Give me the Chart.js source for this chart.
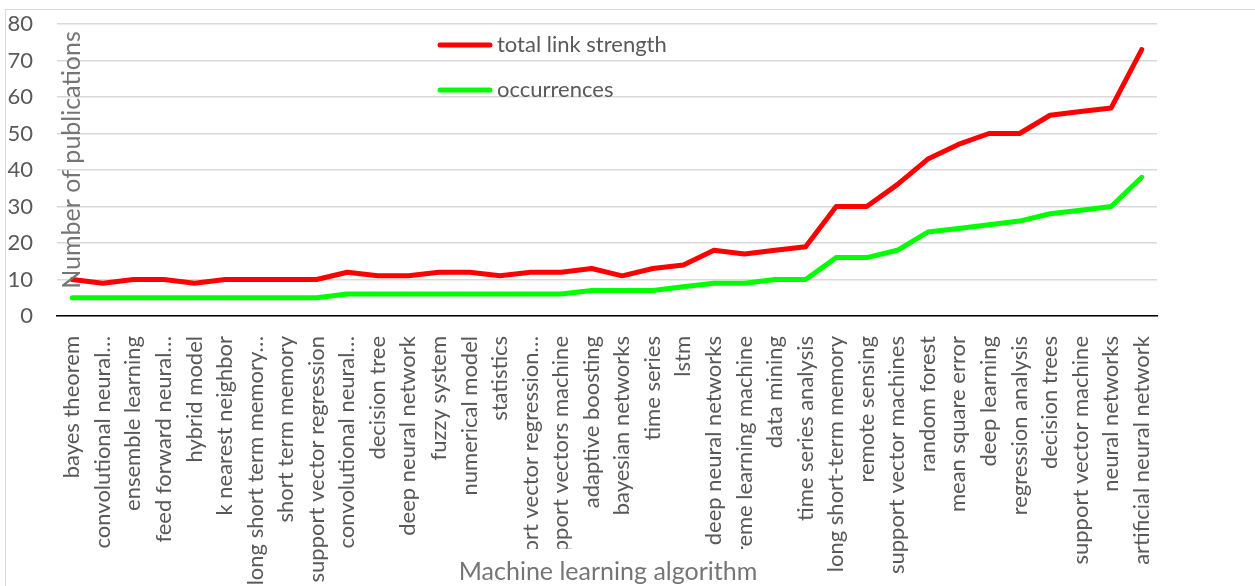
<!DOCTYPE html>
<html>
<head>
<meta charset="utf-8">
<script src="https://cdn.jsdelivr.net/npm/chart.js@4.4.1/dist/chart.umd.min.js"></script>
<style>
  html, body { margin: 0; padding: 0; background: #ffffff; }
  #wrap { position: relative; width: 1255px; height: 586px; overflow: hidden; background: #ffffff; }
  #frame { position: absolute; left: 5px; top: 9px; width: 1400px; height: 700px; border: 1.5px solid #d9d9d9; box-sizing: border-box; }
  canvas { position: absolute; left: 0; top: 0; }
</style>
</head>
<body>
<div id="wrap">
  <div id="frame"></div>
  <canvas id="chart" width="1255" height="586"></canvas>
</div>
<script>
// Machine learning algorithms, ordered by total link strength
const categories = [
  "bayes theorem",
  "convolutional neural…",
  "ensemble learning",
  "feed forward neural…",
  "hybrid model",
  "k nearest neighbor",
  "long short term memory…",
  "short term memory",
  "support vector regression",
  "convolutional neural…",
  "decision tree",
  "deep neural network",
  "fuzzy system",
  "numerical model",
  "statistics",
  "support vector regression…",
  "support vectors machine",
  "adaptive boosting",
  "bayesian networks",
  "time series",
  "lstm",
  "deep neural networks",
  "extreme learning machine",
  "data mining",
  "time series analysis",
  "long short-term memory",
  "remote sensing",
  "support vector machines",
  "random forest",
  "mean square error",
  "deep learning",
  "regression analysis",
  "decision trees",
  "support vector machine",
  "neural networks",
  "artificial neural network"
];

const totalLinkStrength = [
  10, 9, 10, 10, 9, 10, 10, 10, 10, 12,
  11, 11, 12, 12, 11, 12, 12, 13, 11, 13,
  14, 18, 17, 18, 19, 30, 30, 36, 43, 47,
  50, 50, 55, 56, 57, 73
];

const occurrences = [
  5, 5, 5, 5, 5, 5, 5, 5, 5, 6,
  6, 6, 6, 6, 6, 6, 6, 7, 7, 7,
  8, 9, 9, 10, 10, 16, 16, 18, 23, 24,
  25, 26, 28, 29, 30, 38
];

const yTicks = [0, 10, 20, 30, 40, 50, 60, 70, 80];
const seriesNames = ["total link strength", "occurrences"];
const seriesColors = ["#ff0000", "#00ff00"];
const xTitle = "Machine learning algorithm";
const yTitle = "Number of publications";

const FONT = "Lato, 'Open Sans', 'Liberation Sans', sans-serif";
const TICK_COLOR = "#595959";
const TITLE_COLOR = "#757575";

// Legend drawn as a column of line samples inside the plot
const insideLegend = {
  id: 'insideLegend',
  afterDatasetsDraw(chart) {
    const ctx = chart.ctx;
    const x0 = 440, x1 = 490, textX = 497, rowY = [45, 90];
    ctx.save();
    chart.data.datasets.forEach((ds, i) => {
      ctx.strokeStyle = ds.borderColor;
      ctx.lineWidth = 5;
      ctx.lineCap = 'round';
      ctx.beginPath();
      ctx.moveTo(x0, rowY[i]);
      ctx.lineTo(x1, rowY[i]);
      ctx.stroke();
      ctx.fillStyle = TICK_COLOR;
      ctx.font = "22px " + FONT;
      ctx.textAlign = 'left';
      ctx.textBaseline = 'middle';
      ctx.fillText(ds.label, textX, rowY[i]);
    });
    ctx.restore();
  }
};

// Axis titles placed over the chart like a spreadsheet layout
const axisTitles = {
  id: 'axisTitles',
  afterDraw(chart) {
    const ctx = chart.ctx;
    ctx.save();
    // white panel behind the category-axis title hides the label tails under it
    ctx.fillStyle = '#ffffff';
    ctx.fillRect(455, 549, 312, 40);
    ctx.fillStyle = TITLE_COLOR;
    ctx.font = "25px " + FONT;
    ctx.textAlign = 'center';
    ctx.textBaseline = 'middle';
    ctx.fillText(xTitle, 608, 572);

    ctx.translate(72, 160);
    ctx.rotate(-Math.PI / 2);
    ctx.fillStyle = TITLE_COLOR;
    ctx.fillText(yTitle, 0, 0);
    ctx.restore();
  }
};

new Chart(document.getElementById('chart'), {
  type: 'line',
  data: {
    labels: categories,
    datasets: [
      {
        label: seriesNames[0],
        data: totalLinkStrength,
        borderColor: seriesColors[0],
        backgroundColor: seriesColors[0],
        borderWidth: 5,
        borderCapStyle: 'round',
        borderJoinStyle: 'round',
        pointRadius: 0,
        tension: 0,
        fill: false
      },
      {
        label: seriesNames[1],
        data: occurrences,
        borderColor: seriesColors[1],
        backgroundColor: seriesColors[1],
        borderWidth: 5,
        borderCapStyle: 'round',
        borderJoinStyle: 'round',
        pointRadius: 0,
        tension: 0,
        fill: false
      }
    ]
  },
  options: {
    responsive: false,
    animation: false,
    devicePixelRatio: 1,
    layout: { padding: { left: 0, top: 24, right: 98, bottom: 0 } },
    plugins: {
      legend: { display: false },
      tooltip: { enabled: false },
      title: { display: false }
    },
    scales: {
      x: {
        type: 'category',
        offset: true,
        grid: { display: false, drawTicks: false },
        border: { display: true, color: '#000000', width: 1.5 },
        ticks: {
          autoSkip: false,
          maxRotation: 90,
          minRotation: 90,
          padding: 20,
          color: TICK_COLOR,
          font: { family: FONT, size: 22 }
        },
        afterFit(scale) { scale.height = 270; }
      },
      y: {
        min: 0,
        max: 80,
        afterBuildTicks(scale) { scale.ticks = yTicks.map(v => ({ value: v })); },
        grid: { color: '#d9d9d9', lineWidth: 1.5, drawTicks: false },
        border: { display: false },
        ticks: {
          padding: 24,
          color: TICK_COLOR,
          font: { family: FONT, size: 22 }
        },
        afterFit(scale) {
          scale.width = 57;
          scale.paddingTop = 0;
          scale.paddingBottom = 0;
        }
      }
    }
  },
  plugins: [insideLegend, axisTitles]
});
</script>
</body>
</html>
